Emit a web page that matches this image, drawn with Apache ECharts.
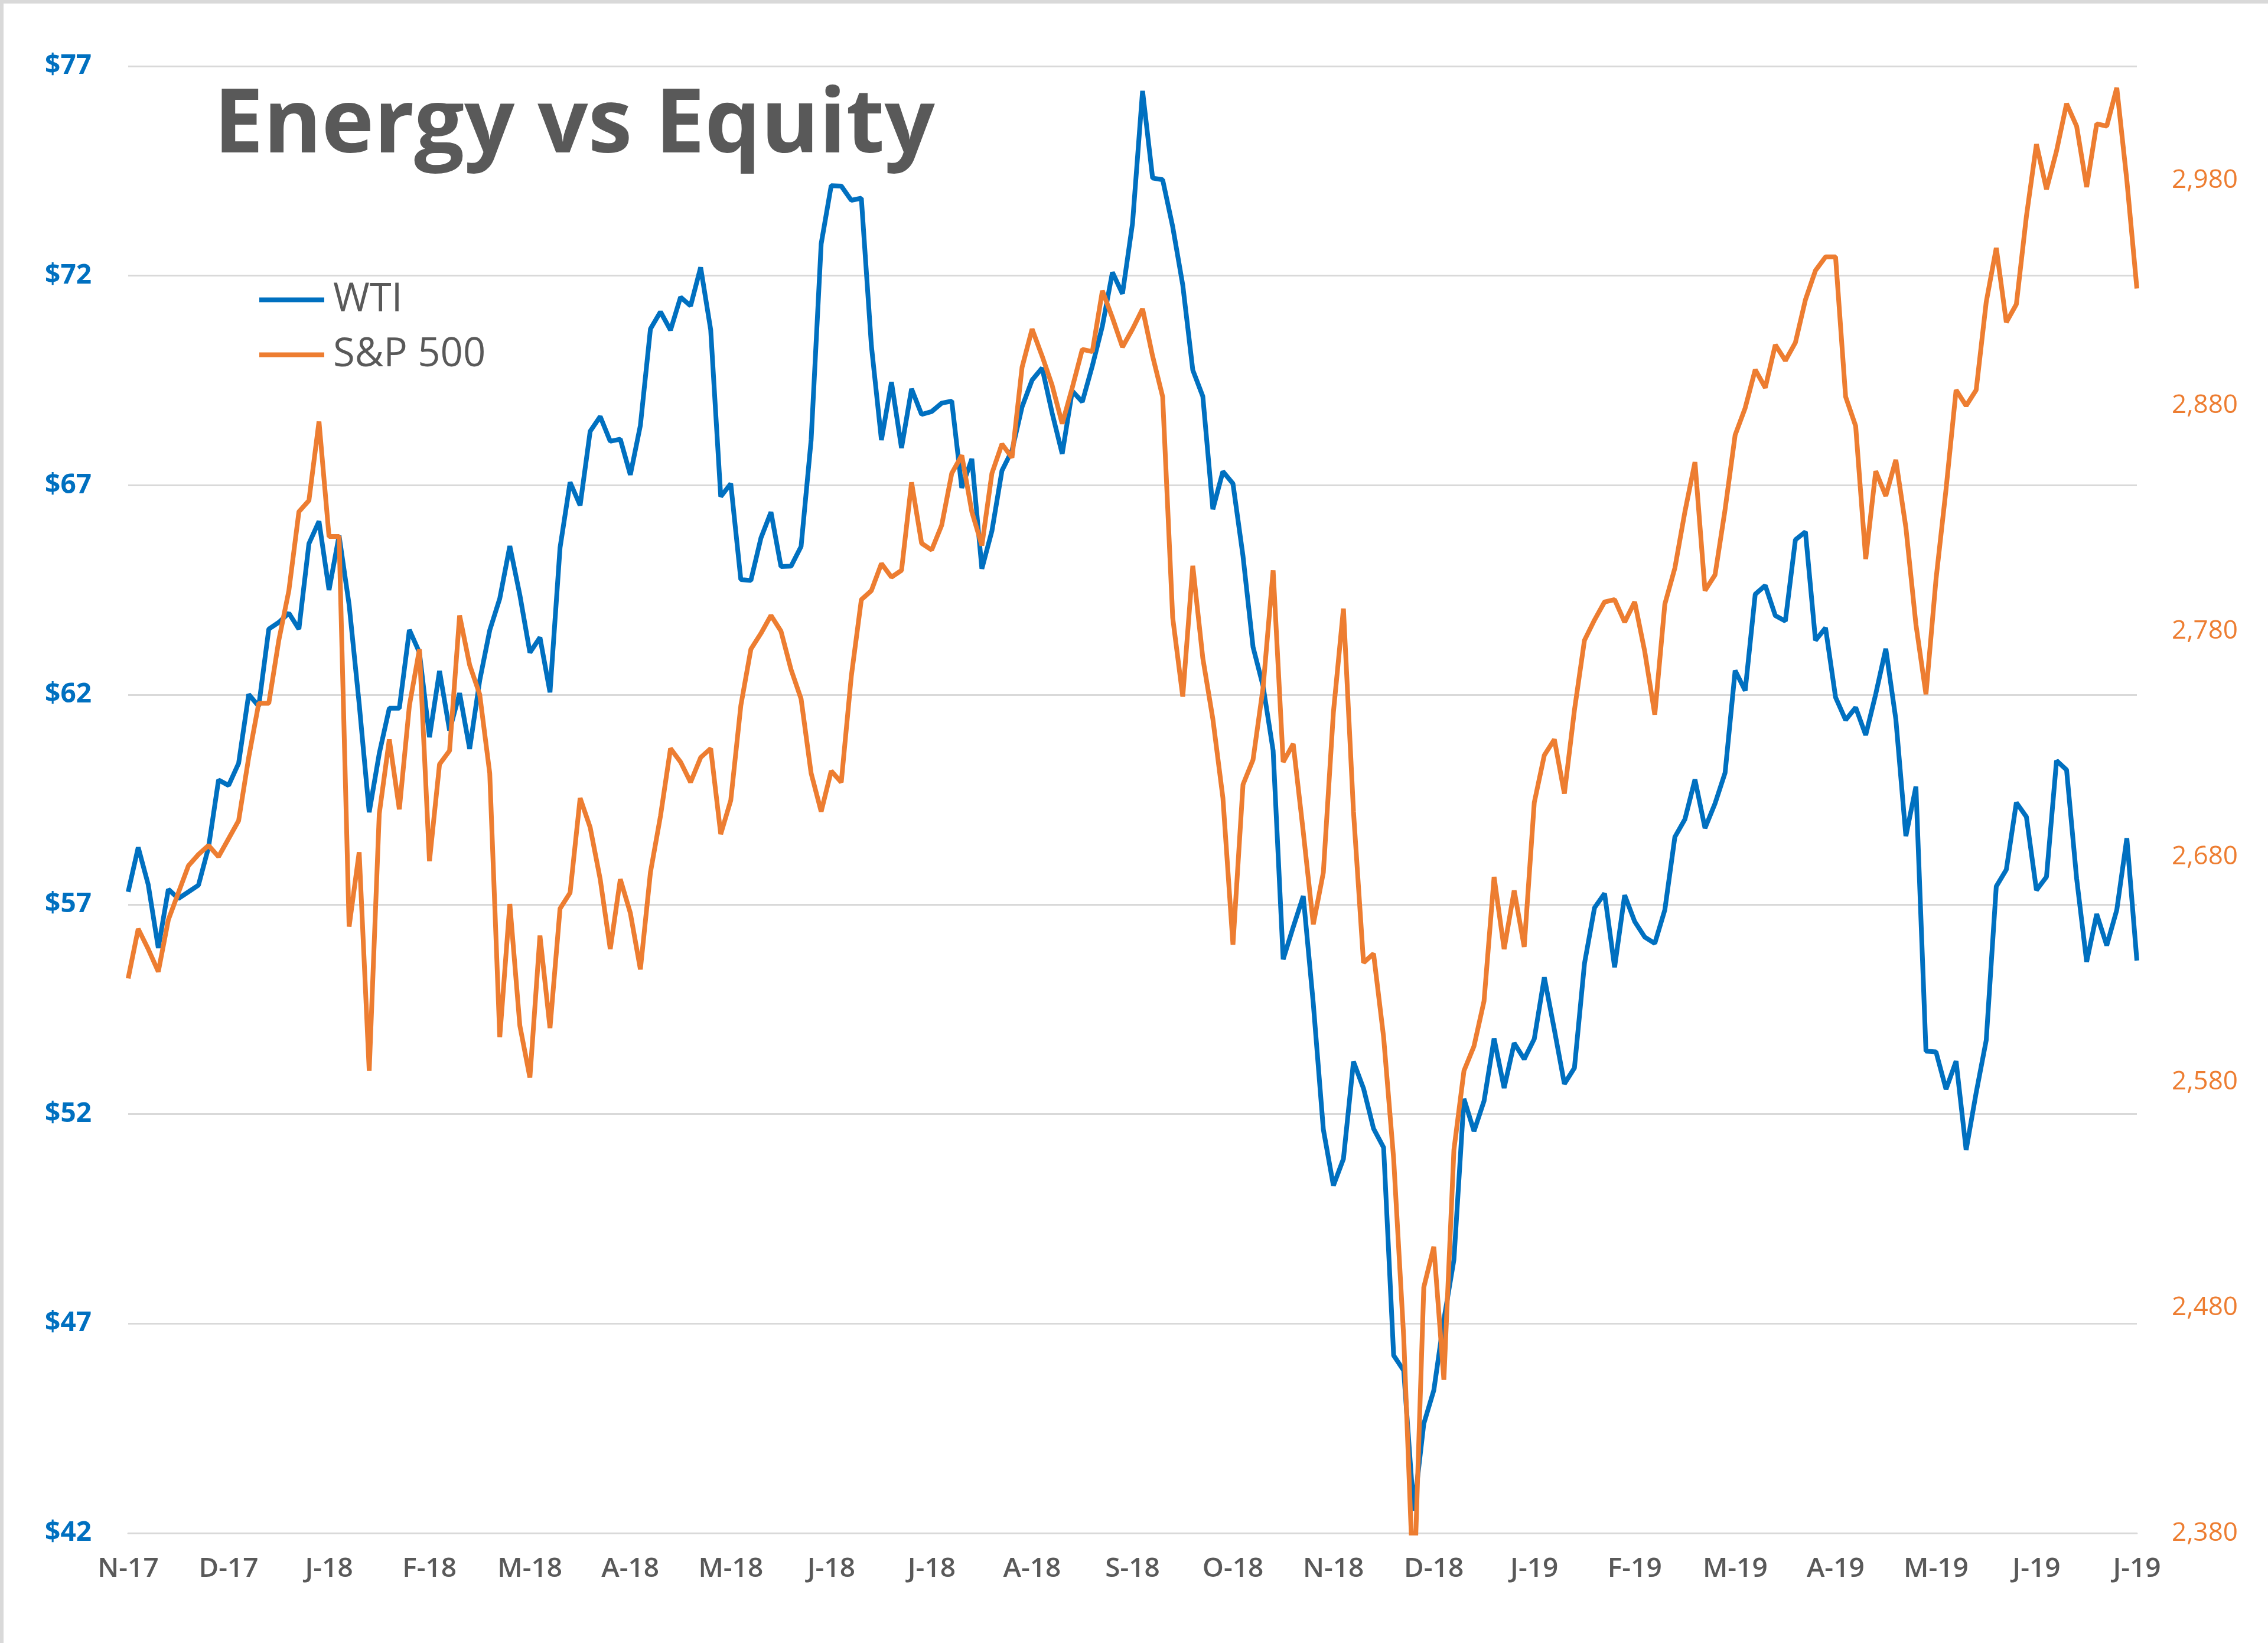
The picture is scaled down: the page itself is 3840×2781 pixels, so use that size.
<!DOCTYPE html>
<html><head><meta charset="utf-8">
<script src="https://cdn.jsdelivr.net/npm/echarts@6/dist/echarts.min.js"></script>
<style>html,body{margin:0;padding:0;background:#fff}#c{width:3840px;height:2781px}</style>
</head><body><div id="c"></div>
<script>
const monthLabels = ['N-17','D-17','J-18','F-18','M-18','A-18','M-18','J-18','J-18','A-18','S-18','O-18','N-18','D-18','J-19','F-19','M-19','A-19','M-19','J-19','J-19'];
const pointsPerMonth = 10;
const wtiTicks = [42,47,52,57,62,67,72,77];
const spxTicks = [2380,2480,2580,2680,2780,2880,2980];

const wti = [
57.30,58.36,57.47,55.96,57.36,57.14,57.30,57.46,58.36,59.97,
59.84,60.37,62.01,61.73,63.57,63.73,63.95,63.57,65.61,66.14,
64.50,65.80,64.15,61.79,59.20,60.60,61.68,61.68,63.55,63.01,
60.99,62.57,61.15,62.04,60.71,62.34,63.54,64.30,65.55,64.38,
63.01,63.37,62.06,65.51,67.07,66.52,68.29,68.64,68.05,68.10,
67.25,68.43,70.73,71.14,70.70,71.49,71.28,72.20,70.71,66.73,
67.04,64.75,64.73,65.74,66.36,65.06,65.07,65.54,68.08,72.76,
74.15,74.14,73.80,73.85,70.33,68.08,69.46,67.89,69.30,68.69,
68.76,68.96,69.01,66.94,67.63,65.01,65.91,67.35,67.83,68.87,
69.51,69.80,68.72,67.75,69.25,68.99,69.85,70.80,72.08,71.57,
73.25,76.41,74.33,74.29,73.17,71.78,69.75,69.12,66.43,67.33,
67.04,65.31,63.14,62.21,60.67,55.69,56.46,57.20,54.63,51.63,
50.29,50.93,53.25,52.61,51.65,51.20,46.24,45.88,42.53,44.61,
45.41,47.09,48.52,52.36,51.59,52.31,53.80,52.62,53.69,53.31,
53.79,55.26,54.01,52.72,53.10,55.59,56.92,57.26,55.50,57.22,
56.59,56.22,56.07,56.87,58.61,59.03,59.98,58.82,59.41,60.14,
62.58,62.10,64.40,64.61,63.89,63.76,65.70,65.89,63.30,63.60,
61.94,61.40,61.70,61.04,62.02,63.10,61.42,58.63,59.81,53.50,
53.48,52.59,53.26,51.14,52.51,53.76,57.43,57.83,59.43,59.09,
57.34,57.66,60.43,60.21,57.62,55.63,56.77,56.02,56.87,58.58,
55.66
];

const spx = [
2626,2648,2639,2629,2652,2664,2676,2681,2685,2680,
2688,2696,2724,2748,2748,2776,2798,2833,2838,2873,
2822,2822,2649,2682,2585,2699,2732,2701,2747,2772,
2678,2721,2727,2787,2765,2752,2717,2600,2659,2605,
2582,2645,2604,2657,2664,2706,2693,2670,2639,2670,
2655,2630,2673,2698,2728,2722,2713,2724,2728,2690,
2705,2747,2772,2779,2787,2780,2763,2750,2717,2700,
2718,2713,2760,2794,2798,2810,2804,2807,2846,2819,
2816,2827,2850,2858,2833,2818,2850,2863,2857,2897,
2914,2902,2889,2872,2888,2905,2904,2931,2919,2906,
2914,2923,2902,2884,2786,2751,2809,2768,2741,2706,
2641,2712,2723,2755,2807,2722,2730,2691,2650,2673,
2744,2790,2700,2633,2637,2600,2546,2467,2351,2489,
2507,2448,2550,2585,2596,2616,2671,2639,2665,2640,
2704,2725,2732,2708,2745,2776,2785,2793,2794,2784,
2793,2771,2743,2792,2808,2833,2855,2798,2805,2834,
2867,2879,2896,2888,2907,2900,2908,2927,2940,2946,
2946,2884,2871,2812,2851,2840,2856,2826,2783,2752,
2803,2843,2887,2880,2887,2926,2950,2917,2925,2964,
2996,2976,2993,3014,3004,2977,3005,3004,3021,2980,
2932
];

const categories = wti.map((_, i) => i % pointsPerMonth === 0 ? monthLabels[i / pointsPerMonth] : '');

const FONT = '"Open Sans", "Liberation Sans", sans-serif';
const chart = echarts.init(document.getElementById('c'), null, {renderer: 'canvas'});
chart.setOption({
  backgroundColor: '#ffffff',
  animation: false,
  grid: {left: 217, right: 222, top: 112, bottom: 186, outerBoundsMode: 'none'},
  legend: {
    orient: 'vertical', left: 434, top: 469, itemWidth: 110, itemHeight: 8, itemGap: 26,
    icon: 'rect',
    textStyle: {fontSize: 67, color: '#595959', fontFamily: FONT, padding: [0, 0, 0, 10]},
    data: ['WTI', 'S&P 500']
  },
  graphic: [
    {type: 'rect', left: 0, top: 0, silent: true,
     shape: {width: 3840, height: 2781}, style: {fill: 'none', stroke: '#D9D9D9', lineWidth: 6}},
    {type: 'text', left: 362, top: 140, silent: true,
     style: {text: 'Energy vs Equity', font: 'bold 150px ' + FONT, fill: '#595959'}}
  ],
  xAxis: {
    type: 'category', data: categories, boundaryGap: false,
    axisLine: {lineStyle: {color: '#D9D9D9', width: 3}},
    axisTick: {show: false},
    axisLabel: {interval: (i) => i % pointsPerMonth === 0, color: '#595959', fontSize: 46, fontWeight: 600, margin: 38, fontFamily: FONT},
    splitLine: {show: false}
  },
  yAxis: [
    {
      type: 'value', min: 42, max: 77, position: 'left',
      axisLabel: {customValues: wtiTicks, formatter: v => '$' + v, color: '#0070C0', fontWeight: 'bold', fontSize: 46, margin: 62, fontFamily: FONT},
      axisTick: {show: false, customValues: wtiTicks},
      splitLine: {show: true, lineStyle: {color: '#D9D9D9', width: 3}},
      axisLine: {show: false}
    },
    {
      type: 'value', min: 2380, max: 3030.6, position: 'right',
      axisLabel: {customValues: spxTicks, formatter: v => v.toLocaleString('en-US'), color: '#ED7D31', fontSize: 44, fontWeight: 500, margin: 59, fontFamily: FONT},
      axisTick: {show: false, customValues: spxTicks},
      splitLine: {show: false},
      axisLine: {show: false}
    }
  ],
  series: [
    {name: 'WTI', type: 'line', data: wti, yAxisIndex: 0, symbol: 'none', clip: true,
     lineStyle: {color: '#0070C0', width: 8}, itemStyle: {color: '#0070C0'}},
    {name: 'S&P 500', type: 'line', data: spx, yAxisIndex: 1, symbol: 'none', clip: true,
     lineStyle: {color: '#ED7D31', width: 8}, itemStyle: {color: '#ED7D31'}}
  ]
});
</script>
</body></html>
